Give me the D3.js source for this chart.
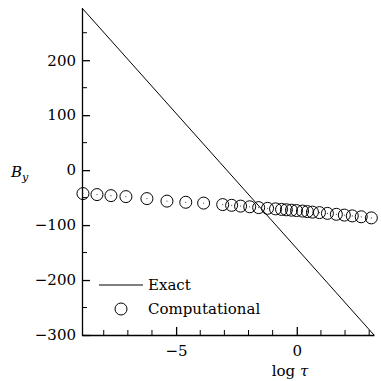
<!DOCTYPE html>
<html>
<head>
<meta charset="utf-8">
<script src="https://cdnjs.cloudflare.com/ajax/libs/d3/7.8.5/d3.min.js"></script>
<style>
  body { margin: 0; background: #fff; }
</style>
</head>
<body>
<div class="chart"></div>
<script>
var chartOptions = {
  width: 381,
  height: 381,
  left: 82,
  right: 374,
  top: 8,
  bottom: 335,
  font: 'DejaVu Serif',
  fontSize: 15
};

// exact solution, a straight line in log tau
var exactX = [-8.9, 3.2];
var exactY = [295, -300];

// computational points
var compX = [-8.86, -8.28, -7.70, -7.08, -6.21, -5.38, -4.60, -3.86, -3.07, -2.70,
             -2.33, -1.95, -1.58, -1.21, -0.88, -0.63, -0.43, -0.22, -0.01, 0.24,
             0.44, 0.65, 0.94, 1.27, 1.64, 1.97, 2.30, 2.67, 3.09];
var compY = [-42.7, -44.5, -46.4, -48.2, -51.8, -56.4, -58.5, -60.0, -62.7, -64.0,
             -65.5, -66.7, -68.2, -69.5, -70.5, -71.5, -72.2, -72.9, -73.6, -74.5,
             -75.5, -76.4, -77.3, -78.7, -80.4, -81.8, -83.3, -84.9, -86.9];

var xMajor = [-5, 0];
var xMinor = [-8, -7, -6, -4, -3, -2, -1, 1, 2, 3];
var yMajor = [-300, -200, -100, 0, 100, 200];
var yMinor = [-250, -150, -50, 50, 150, 250];

var svg = d3.select('.chart').append('svg')
  .attr('width', chartOptions.width)
  .attr('height', chartOptions.height)
  .attr('font-family', chartOptions.font);

var x = d3.scaleLinear().domain([-8.9, 3.2]).range([chartOptions.left, chartOptions.right]);
var y = d3.scaleLinear().domain([-300, 295]).range([chartOptions.bottom, chartOptions.top]);

var fmt = function(d) { return d3.format('d')(d).replace('-', '\u2212'); };

// x axis
var xAxis = svg.append('g')
  .attr('transform', 'translate(0,' + chartOptions.bottom + ')')
  .call(d3.axisBottom(x).tickValues(xMajor).tickSize(-8).tickSizeOuter(0).tickPadding(10).tickFormat(fmt));
xAxis.append('g').selectAll('line')
  .data(xMinor)
  .enter().append('line')
  .attr('x1', function(d) { return x(d); })
  .attr('x2', function(d) { return x(d); })
  .attr('y1', 0).attr('y2', -5)
  .attr('stroke', '#000');

// y axis
var yAxis = svg.append('g')
  .attr('transform', 'translate(' + chartOptions.left + ',0)')
  .call(d3.axisLeft(y).tickValues(yMajor).tickSize(-8).tickSizeOuter(0).tickPadding(6).tickFormat(fmt));
yAxis.append('g').selectAll('line')
  .data(yMinor)
  .enter().append('line')
  .attr('y1', function(d) { return y(d); })
  .attr('y2', function(d) { return y(d); })
  .attr('x1', 0).attr('x2', 5)
  .attr('stroke', '#000');

svg.selectAll('g').attr('font-family', chartOptions.font);
svg.selectAll('.tick text')
  .attr('font-family', chartOptions.font)
  .attr('font-size', chartOptions.fontSize)
  .attr('fill', '#000');
svg.selectAll('.domain, .tick line').attr('stroke', '#000').attr('stroke-width', 1.3);

// exact line
svg.append('line')
  .attr('x1', x(exactX[0])).attr('y1', y(exactY[0]))
  .attr('x2', x(exactX[1])).attr('y2', y(exactY[1]))
  .attr('stroke', '#000')
  .attr('stroke-width', 1);

// computational circles
var pts = svg.append('g').selectAll('g.pt')
  .data(d3.range(compX.length))
  .enter().append('g')
  .attr('class', 'pt')
  .attr('transform', function(i) { return 'translate(' + x(compX[i]) + ',' + y(compY[i]) + ')'; });
pts.append('circle')
  .attr('r', 6)
  .attr('fill', 'none')
  .attr('stroke', '#000')
  .attr('stroke-width', 1);
pts.append('circle')
  .attr('r', 0.6)
  .attr('fill', '#444');

// axis labels
var xLabel = svg.append('text')
  .attr('x', 290).attr('y', 376)
  .attr('text-anchor', 'middle')
  .attr('font-family', chartOptions.font)
  .attr('font-size', chartOptions.fontSize);
xLabel.append('tspan').text('log ');
xLabel.append('tspan').attr('font-style', 'italic').text('τ');

var byLabel = svg.append('text')
  .attr('x', 11).attr('y', 177)
  .attr('font-family', chartOptions.font)
  .attr('font-size', chartOptions.fontSize)
  .attr('font-style', 'italic');
byLabel.append('tspan').text('B');
byLabel.append('tspan').attr('font-size', 11).attr('dy', 4).text('y');

// legend
svg.append('line')
  .attr('x1', 99).attr('x2', 143)
  .attr('y1', 285).attr('y2', 285)
  .attr('stroke', '#000');
svg.append('text')
  .attr('x', 148).attr('y', 290)
  .attr('font-family', chartOptions.font)
  .attr('font-size', chartOptions.fontSize)
  .text('Exact');
svg.append('circle')
  .attr('cx', 121).attr('cy', 309).attr('r', 6)
  .attr('fill', 'none').attr('stroke', '#000');
svg.append('text')
  .attr('x', 148).attr('y', 314)
  .attr('font-family', chartOptions.font)
  .attr('font-size', chartOptions.fontSize)
  .text('Computational');
</script>
</body>
</html>
